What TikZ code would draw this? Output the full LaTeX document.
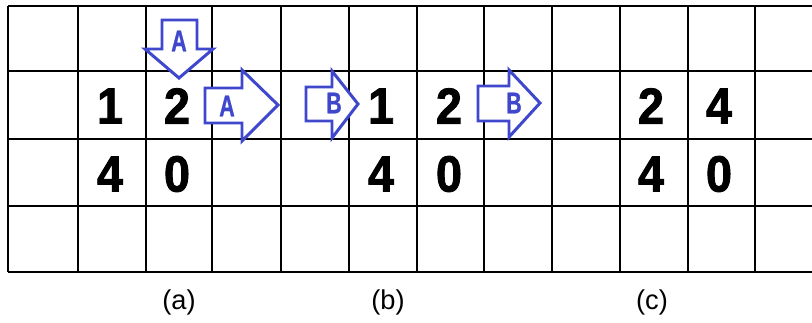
\documentclass[tikz,border=0pt]{standalone}
\usepackage{fontspec}
\setmainfont{Liberation Sans}
\newfontfamily\digitfont{Liberation Sans}[FakeStretch=0.92, FakeBold=1.6]
\newfontfamily\tagfont{Liberation Sans}[FakeStretch=0.72, FakeBold=0.8]
\usepackage{tikz}
\usetikzlibrary{positioning}
\definecolor{ArrowBlue}{HTML}{3F48CC}

\begin{document}
\begin{tikzpicture}[
    x=0.02cm, y=-0.02cm,
    gridline/.style={line width=1.1pt, draw=black},
    digit/.style={font={\digitfont\bfseries\fontsize{29}{31}\selectfont}, inner sep=0pt},
    blockarrow/.style={line width=1.7pt, draw=ArrowBlue, fill=white, line join=miter},
    tag/.style={font={\tagfont\bfseries\fontsize{17}{19}\selectfont}, text=ArrowBlue, inner sep=0pt},
    caption/.style={font={\fontsize{15.5}{18}\selectfont}, inner sep=0pt}
]
\useasboundingbox (0,0) rectangle (812,322);

\draw[gridline] (8,6) -- (812,6);
\draw[gridline] (8,71) -- (812,71);
\draw[gridline] (8,139) -- (812,139);
\draw[gridline] (8,206) -- (812,206);
\draw[gridline] (8,272) -- (812,272);
\draw[gridline] (8,6) -- (8,272);
\draw[gridline] (78,6) -- (78,272);
\draw[gridline] (146,6) -- (146,272);
\draw[gridline] (212,6) -- (212,272);
\draw[gridline] (281,6) -- (281,272);
\draw[gridline] (349,6) -- (349,272);
\draw[gridline] (417,6) -- (417,272);
\draw[gridline] (484,6) -- (484,272);
\draw[gridline] (552,6) -- (552,272);
\draw[gridline] (620,6) -- (620,272);
\draw[gridline] (688,6) -- (688,272);
\draw[gridline] (755,6) -- (755,272);

\node[digit] (a11) at (110,106) {1};
\node[digit] (a12) at (177,106) {2};
\node[digit] (a21) at (110,174) {4};
\node[digit] (a22) at (177,174) {0};

\node[digit] (b11) at (381,106) {1};
\node[digit] (b12) at (449,106) {2};
\node[digit] (b21) at (381,174) {4};
\node[digit] (b22) at (449,174) {0};

\node[digit] (c11) at (651,106) {2};
\node[digit] (c12) at (719,106) {4};
\node[digit] (c21) at (651,174) {4};
\node[digit] (c22) at (719,174) {0};

\draw[blockarrow] (162,20) -- (197,20) -- (197,49) -- (213,49) -- (179,78) -- (145,49) -- (162,49) -- cycle;
\draw[blockarrow] (205,88) -- (242,88) -- (242,70) -- (278,105) -- (242,141) -- (242,123) -- (205,123) -- cycle;
\draw[blockarrow] (306,87) -- (332,87) -- (332,71) -- (358,104) -- (332,138) -- (332,121) -- (306,121) -- cycle;
\draw[blockarrow] (478,86) -- (509,86) -- (509,70) -- (540,103) -- (509,137) -- (509,121) -- (478,121) -- cycle;

\node[tag] (tagA1) at (179,41) {A};
\node[tag] (tagA2) at (227,106) {A};
\node[tag] (tagB1) at (334,103) {B};
\node[tag] (tagB2) at (514,103) {B};

\node[caption] (capa) at (179,302) {(a)};
\node[caption] (capb) at (388,302) {(b)};
\node[caption] (capc) at (652,302) {(c)};
\end{tikzpicture}
\end{document}
